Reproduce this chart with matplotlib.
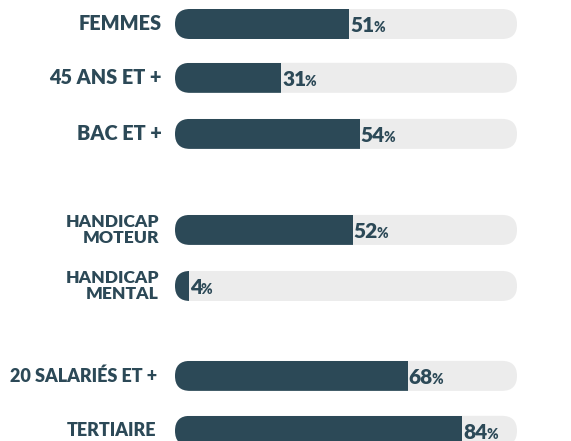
import matplotlib
matplotlib.use("Agg")
import matplotlib.pyplot as plt
from matplotlib.patches import FancyBboxPatch

# data
labels = ["FEMMES", "45 ANS ET +", "BAC ET +", "HANDICAP\nMOTEUR", "HANDICAP\nMENTAL",
          "20 SALARIÉS ET +", "TERTIAIRE"]
values = [51, 31, 54, 52, 4, 68, 84]
ypos = [0, 0.97, 1.98, 3.71, 4.72, 6.34, 7.33]   # groups separated by gaps
label_size = [14.3, 14.3, 14.3, 12.6, 12.6, 13, 13]
label_dx = [-13, -13, -13, -16, -16, -18, -19]

dark = "#2c4957"
light = "#ececec"

W, H = 571, 441
fig = plt.figure(figsize=(W / 100, H / 100), dpi=100)
ax = fig.add_axes([0, 0, 1, 1])
ax.axis("off")

# pixel scales: 0..100 -> 175..517 px, one row step = 55.5 px
px_x = 342 / 100
px_y = 55.5
ax.set_xlim(-175 / px_x, (W - 175) / px_x)
ax.set_ylim((H - 24) / px_y, -24 / px_y)

bar_h = 30 / px_y
r = 15 / px_x
aspect = (1 / px_y) / (1 / px_x)

plt.rcParams["font.family"] = ["Lato", "DejaVu Sans"]
wt = "heavy"

nums = []
for lab, v, y, fs, dx in zip(labels, values, ypos, label_size, label_dx):
    bg = FancyBboxPatch((0, y - bar_h / 2), 100, bar_h,
                        boxstyle=f"round,pad=0,rounding_size={r}",
                        mutation_aspect=aspect, fc=light, ec="none")
    ax.add_patch(bg)
    bars = ax.barh(y, v, height=bar_h, left=0, color=dark)
    for b in bars:
        b.set_clip_path(bg)

    ax.annotate(lab, xy=(0, y), xytext=(dx, 0), textcoords="offset pixels",
                ha="right", va="center", fontsize=fs, fontweight=wt,
                color=dark, linespacing=0.98, multialignment="right")

    t = ax.annotate(str(v), xy=(v, y), xytext=(1, -8), textcoords="offset pixels",
                    ha="left", va="baseline", fontsize=15, fontweight=wt, color=dark)
    nums.append((t, v, y))

fig.canvas.draw()
rend = fig.canvas.get_renderer()
for t, v, y in nums:
    w = t.get_window_extent(rend).width
    ax.annotate("%", xy=(v, y), xytext=(1 + w - 1.5, -8), textcoords="offset pixels",
                ha="left", va="baseline", fontsize=10, fontweight=wt, color=dark)

fig.savefig("out.png", dpi=100)
